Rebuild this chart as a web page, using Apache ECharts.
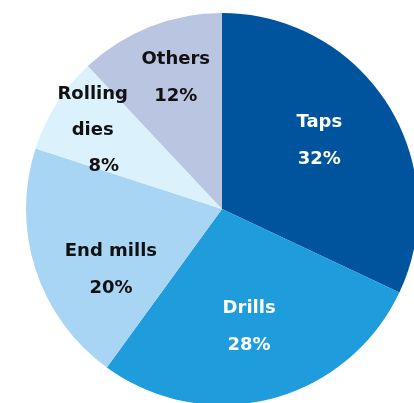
<!DOCTYPE html>
<html>
<head>
<meta charset="utf-8">
<script src="https://cdn.jsdelivr.net/npm/echarts@6/dist/echarts.min.js"></script>
<style>
html,body{margin:0;padding:0;background:#fff;}
#c{width:414px;height:403px;}
</style>
</head>
<body>
<div id="c"></div>
<script>
const categories = ['Taps', 'Drills', 'End mills', 'Rolling dies', 'Others'];
const shares = [32, 28, 20, 8, 12];

const sliceColors = ['#00549e', '#1e9cdc', '#a9d5f5', '#dbf1fb', '#bac5e1'];
const labelColors = ['#ffffff', '#ffffff', '#111111', '#111111', '#111111'];
const labelOffsets = [[12, -14], [2, 20], [-15, 30], [-44, -25], [-9, -37]];

const chart = echarts.init(document.getElementById('c'), null, {renderer: 'canvas'});
chart.setOption({
  animation: false,
  series: [{
    type: 'pie',
    center: [222, 209],
    radius: 196,
    startAngle: 90,
    clockwise: true,
    silent: true,
    label: {
      show: true,
      position: 'inside',
      fontFamily: 'DejaVu Sans',
      fontWeight: 'bold',
      fontSize: 18,
      lineHeight: 37,
      align: 'center',
      formatter: p => p.name === 'Rolling dies'
        ? '{t|Rolling}\n{t|dies}\n{q|' + p.value + '%}'
        : p.name + '\n' + p.value + '%'
    },
    labelLine: {show: false},
    data: categories.map((name, i) => ({
      name: name,
      value: shares[i],
      itemStyle: {color: sliceColors[i]},
      label: {
        color: labelColors[i],
        offset: labelOffsets[i],
        lineHeight: i === 3 ? 36 : 37,
        rich: {
          t: {fontFamily: 'DejaVu Sans', fontWeight: 'bold', fontSize: 18, lineHeight: 36, color: labelColors[i]},
          q: {fontFamily: 'DejaVu Sans', fontWeight: 'bold', fontSize: 18, lineHeight: 36, color: labelColors[i], padding: [0, 0, 0, 22]}
        }
      }
    }))
  }]
});
</script>
</body>
</html>
